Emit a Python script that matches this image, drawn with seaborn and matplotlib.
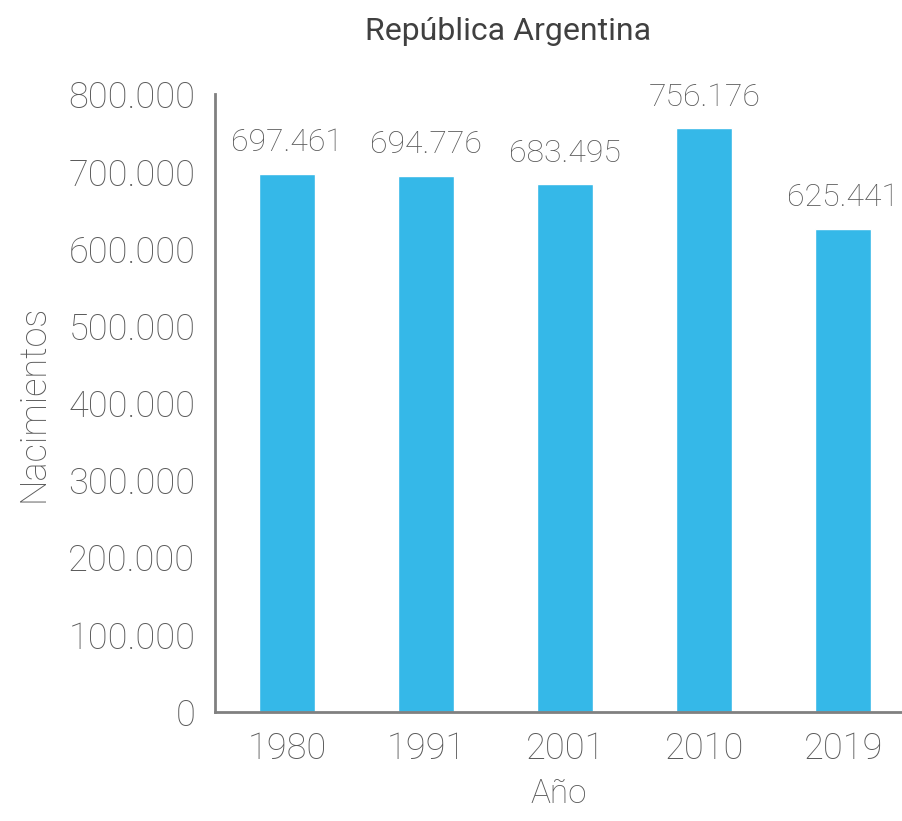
import matplotlib
matplotlib.use("Agg")
import matplotlib.pyplot as plt
import matplotlib.ticker as mticker
import pandas as pd
import seaborn as sns

# data
years = ["1980", "1991", "2001", "2010", "2019"]
births = [697461, 694776, 683495, 756176, 625441]


def fmt(v):
    return f"{int(v):,}".replace(",", ".")


def main():
    data = pd.DataFrame({"year": years, "births": births})

    sns.set_style("white")
    plt.rcParams["font.family"] = ["Roboto", "DejaVu Sans"]

    text_color = "#5a5a5a"
    spine_color = "#808080"

    fig = plt.figure(figsize=(9.03, 8.21), dpi=100)
    ax = fig.add_axes([0.238, 0.133, 0.762, 0.752])

    sns.barplot(data=data, x="year", y="births", color="#35b8e8",
                width=0.4, saturation=1, ax=ax)

    ax.set_ylim(0, 800000)
    ax.set_xlim(-0.52, 4.43)
    ax.yaxis.set_major_locator(mticker.MultipleLocator(100000))
    ax.yaxis.set_major_formatter(mticker.FuncFormatter(lambda v, p: fmt(v)))

    # value labels
    for p, v in zip(ax.patches, births):
        ax.annotate(fmt(v), (p.get_x() + p.get_width() / 2, p.get_height()),
                    xytext=(0, 12), textcoords="offset points",
                    ha="center", va="bottom", fontsize=23, fontweight="light",
                    color=text_color)

    for side in ["top", "right"]:
        ax.spines[side].set_visible(False)
    for side in ["left", "bottom"]:
        ax.spines[side].set_color(spine_color)
        ax.spines[side].set_linewidth(2)

    ax.tick_params(axis="y", length=8, width=2, color=spine_color,
                   labelsize=26, labelcolor=text_color, pad=6)
    ax.tick_params(axis="x", length=0, labelsize=26, labelcolor=text_color, pad=14)
    for lbl in ax.get_xticklabels() + ax.get_yticklabels():
        lbl.set_fontweight("light")

    ax.set_xlabel("Año", fontsize=24, color=text_color, fontweight="light", labelpad=8)
    ax.set_ylabel("Nacimientos", fontsize=26, color=text_color, fontweight="light", labelpad=12)

    fig.text(0.563, 0.962, "República Argentina", ha="center", va="center",
             fontsize=23, color="#404040")

    fig.savefig("out.png", dpi=100)


if __name__ == "__main__":
    main()
